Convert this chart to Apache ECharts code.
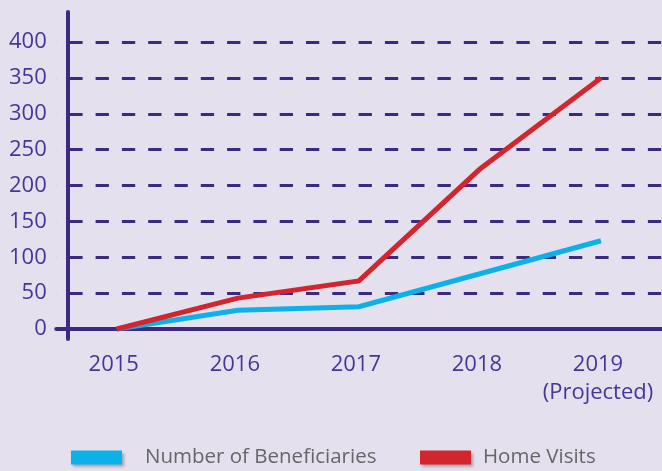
<!DOCTYPE html>
<html>
<head>
<meta charset="utf-8">
<script src="https://cdn.jsdelivr.net/npm/echarts@6/dist/echarts.min.js"></script>
<style>
  html, body { margin: 0; padding: 0; background: #e4e0ee; }
  #chart { width: 662px; height: 471px; }
</style>
</head>
<body>
<div id="chart"></div>
<script>
// chart data
const years = ['2015', '2016', '2017', '2018', '2019\n(Projected)']
const beneficiaries = [0, 26, 31, 77, 123]
const homeVisits = [0, 43, 67, 223, 350]

const purple = '#3d2a80'
const labelColor = '#4a3595'
const font = '"Open Sans", "Noto Sans", sans-serif'

const legendBase = {
  top: 442,
  icon: 'rect',
  itemWidth: 51,
  itemHeight: 14,
  itemStyle: {
    shadowColor: 'rgba(0,0,0,0.3)',
    shadowBlur: 3,
    shadowOffsetX: 2,
    shadowOffsetY: 2,
  },
}

let myChart = echarts.init(document.getElementById('chart'))
let option = {
  backgroundColor: '#e4e0ee',
  animation: false,
  grid: {
    left: 56.25,
    top: 12,
    width: 607.5,
    height: 327,
  },
  legend: [
    Object.assign({}, legendBase, {
      left: 66,
      textStyle: { color: '#666', fontSize: 20.5, fontFamily: font, padding: [4, 0, 0, 18] },
      data: ['Number of Beneficiaries'],
    }),
    Object.assign({}, legendBase, {
      left: 415,
      textStyle: { color: '#666', fontSize: 20.5, fontFamily: font, padding: [4, 0, 0, 7] },
      data: ['Home Visits'],
    }),
  ],
  xAxis: {
    type: 'category',
    data: years,
    axisLine: {
      onZero: true,
      lineStyle: { color: purple, width: 4 },
    },
    axisTick: { show: false },
    axisLabel: {
      interval: 0,
      color: labelColor,
      fontSize: 22,
      fontFamily: font,
      margin: 12,
      lineHeight: 28,
      padding: [0, 6, 0, 0],
    },
  },
  yAxis: {
    type: 'value',
    min: -14,
    max: 442,
    splitNumber: 9,
    offset: -11.5,
    axisLine: {
      show: true,
      lineStyle: { color: purple, width: 4 },
    },
    axisTick: { show: false },
    axisLabel: {
      color: labelColor,
      fontSize: 22,
      fontFamily: font,
      margin: 21,
      formatter: (v) => (v < 0 || v > 400 ? '' : v),
    },
    splitLine: {
      show: true,
      lineStyle: {
        color: ['transparent', 'transparent', purple, purple, purple, purple, purple, purple, purple, purple, 'transparent'],
        width: 3,
        type: [13.3, 13],
        dashOffset: 13.25,
      },
    },
  },
  series: [
    {
      name: 'Number of Beneficiaries',
      type: 'line',
      data: beneficiaries,
      symbol: 'none',
      color: '#0cb1ea',
      lineStyle: { width: 5, join: 'miter' },
    },
    {
      name: 'Home Visits',
      type: 'line',
      data: homeVisits,
      symbol: 'none',
      color: '#d3252d',
      lineStyle: { width: 5, join: 'miter' },
    },
  ],
}
myChart.setOption(option)
</script>
</body>
</html>
